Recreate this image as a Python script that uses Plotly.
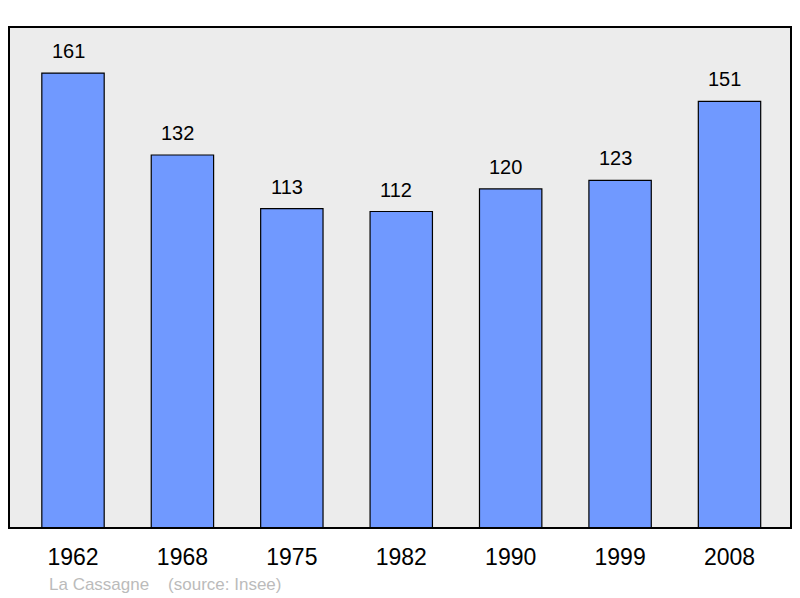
import plotly.graph_objects as go

years = ["1962", "1968", "1975", "1982", "1990", "1999", "2008"]
population = [161, 132, 113, 112, 120, 123, 151]
source_text = "La Cassagne\u00a0\u00a0\u00a0\u00a0(source: Insee)"

fig = go.Figure()
fig.add_trace(go.Bar(
    x=years, y=population, width=0.57,
    marker=dict(color="#7099ff", line=dict(color="#000000", width=1.2)),
    hoverinfo="skip",
))
for i, v in enumerate(population):
    fig.add_annotation(x=i, y=v, xref="x", yref="y", text=str(v), showarrow=False,
                       yanchor="bottom", yshift=9, xshift=-5, font=dict(size=20, color="#000000"))

fig.add_annotation(xref="paper", yref="paper", x=0.0485, y=-0.112, xanchor="left", yanchor="middle",
                   text=source_text, showarrow=False, font=dict(size=17, color="#bbbbbb"))

fig.add_shape(type="rect", xref="paper", yref="paper", x0=0, y0=0, x1=1, y1=1,
              line=dict(color="#000000", width=2), layer="above")

fig.update_layout(
    width=800, height=598,
    margin=dict(l=9, r=9, t=27, b=70),
    paper_bgcolor="#ffffff", plot_bgcolor="#ececec",
    font=dict(family="Liberation Sans, Arial, sans-serif"),
    showlegend=False,
    xaxis=dict(type="category", range=[-0.585, 6.562], showgrid=False, zeroline=False, showline=False,
               ticks="outside", ticklen=8, tickcolor="rgba(0,0,0,0)",
               tickfont=dict(size=23, color="#000000"), fixedrange=True),
    yaxis=dict(range=[0, 177.3], showgrid=False, zeroline=False, showticklabels=False,
               showline=False, fixedrange=True),
)
fig.write_html("out.html", config={"displayModeBar": False},
               post_script="document.body.style.margin='0';")
